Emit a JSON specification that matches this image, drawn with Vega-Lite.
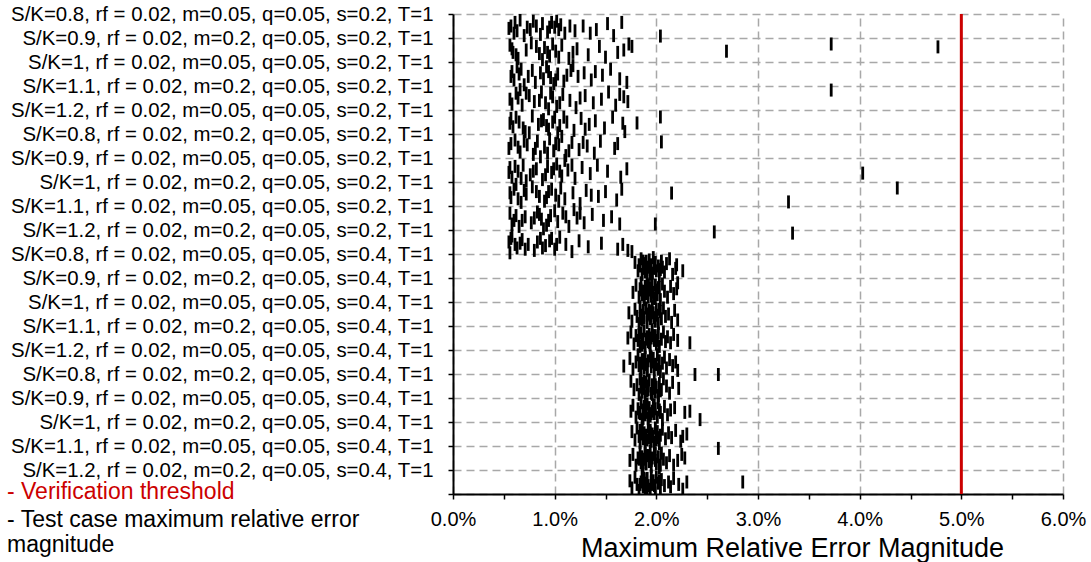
{
"$schema":"https://vega.github.io/schema/vega-lite/v6.json",
"width":610,"height":480,
"autosize":{"type":"none"},
"padding":{"left":453,"top":14,"right":28,"bottom":68},
"config":{"view":{"stroke":null},"font":"Liberation Sans","background":"white"},
"layer":[
{"data":{"values":[
{"e":0.0057,"p":1.5},{"e":0.0061,"p":1.35},{"e":0.0066,"p":1.25},{"e":0.0073,"p":1.55},{"e":0.0079,"p":1.3},{"e":0.0082,"p":1.5},{"e":0.0086,"p":1.85},{"e":0.0097,"p":1.35},{"e":0.01,"p":1.55},{"e":0.0104,"p":1.65},{"e":0.0106,"p":1.45},{"e":0.012,"p":1.7},{"e":0.0128,"p":1.5},{"e":0.0141,"p":1.65},{"e":0.0158,"p":1.9},{"e":0.0166,"p":1.35},{"e":0.0204,"p":1.92},{"e":0.006,"p":1.8},{"e":0.0093,"p":1.75},{"e":0.011,"p":1.8},{"e":0.007,"p":1.9},{"e":0.0152,"p":1.4},
{"e":0.0055,"p":1.6},{"e":0.0063,"p":1.7},{"e":0.0088,"p":1.4},{"e":0.0095,"p":1.55},{"e":0.0102,"p":1.3},{"e":0.0115,"p":1.5},{"e":0.0135,"p":1.8},{"e":0.0076,"p":1.65},
{"e":0.0056,"p":2.3},{"e":0.0059,"p":2.6},{"e":0.0064,"p":2.85},{"e":0.0072,"p":2.5},{"e":0.0077,"p":2.2},{"e":0.0085,"p":2.65},{"e":0.009,"p":2.4},{"e":0.0095,"p":2.75},{"e":0.0101,"p":2.55},{"e":0.0107,"p":2.3},{"e":0.0114,"p":2.85},{"e":0.0122,"p":2.45},{"e":0.0133,"p":2.7},{"e":0.0144,"p":2.35},{"e":0.015,"p":2.8},{"e":0.0162,"p":2.6},{"e":0.0173,"p":2.25},{"e":0.0176,"p":2.35},{"e":0.0269,"p":2.55},{"e":0.0372,"p":2.25},{"e":0.0477,"p":2.37},{"e":0.0088,"p":2.9},
{"e":0.0058,"p":2.45},{"e":0.0062,"p":2.7},{"e":0.0082,"p":2.35},{"e":0.0093,"p":2.6},{"e":0.0098,"p":2.25},{"e":0.0104,"p":2.8},{"e":0.0118,"p":2.6},{"e":0.0168,"p":2.5},
{"e":0.0058,"p":3.4},{"e":0.006,"p":3.75},{"e":0.0067,"p":3.3},{"e":0.0074,"p":3.6},{"e":0.0081,"p":3.85},{"e":0.0086,"p":3.45},{"e":0.0092,"p":3.2},{"e":0.0096,"p":3.65},{"e":0.0103,"p":3.5},{"e":0.0109,"p":3.8},{"e":0.0116,"p":3.35},{"e":0.0123,"p":3.6},{"e":0.0129,"p":3.45},{"e":0.0136,"p":3.75},{"e":0.0147,"p":3.55},{"e":0.0155,"p":3.3},{"e":0.0164,"p":3.7},{"e":0.0171,"p":3.85},{"e":0.007,"p":3.95},{"e":0.0099,"p":3.9},{"e":0.0118,"p":3.15},{"e":0.0063,"p":3.2},
{"e":0.0057,"p":3.6},{"e":0.0065,"p":3.5},{"e":0.0078,"p":3.35},{"e":0.0089,"p":3.7},{"e":0.0094,"p":3.4},{"e":0.0101,"p":3.75},{"e":0.0112,"p":3.55},{"e":0.014,"p":3.4},
{"e":0.0056,"p":4.55},{"e":0.0062,"p":4.3},{"e":0.0068,"p":4.8},{"e":0.0075,"p":4.4},{"e":0.008,"p":4.65},{"e":0.0087,"p":4.25},{"e":0.0091,"p":4.7},{"e":0.0098,"p":4.45},{"e":0.0102,"p":4.85},{"e":0.0108,"p":4.35},{"e":0.0115,"p":4.6},{"e":0.0121,"p":4.9},{"e":0.013,"p":4.4},{"e":0.0138,"p":4.7},{"e":0.0146,"p":4.55},{"e":0.0153,"p":4.25},{"e":0.016,"p":4.8},{"e":0.0168,"p":4.45},{"e":0.0172,"p":4.65},{"e":0.0372,"p":4.17},{"e":0.0094,"p":4.95},{"e":0.0066,"p":4.15},
{"e":0.0058,"p":4.75},{"e":0.0064,"p":4.5},{"e":0.0072,"p":4.3},{"e":0.0085,"p":4.6},{"e":0.0096,"p":4.3},{"e":0.0105,"p":4.7},{"e":0.0125,"p":4.5},{"e":0.0164,"p":4.35},
{"e":0.0057,"p":5.35},{"e":0.0059,"p":5.7},{"e":0.0065,"p":5.5},{"e":0.0071,"p":5.9},{"e":0.0078,"p":5.25},{"e":0.0084,"p":5.6},{"e":0.0089,"p":5.4},{"e":0.0094,"p":5.8},{"e":0.01,"p":5.3},{"e":0.0105,"p":5.65},{"e":0.0112,"p":5.5},{"e":0.0119,"p":5.85},{"e":0.0126,"p":5.35},{"e":0.0134,"p":5.6},{"e":0.014,"p":5.45},{"e":0.0149,"p":5.75},{"e":0.0157,"p":5.3},{"e":0.0167,"p":5.55},{"e":0.0181,"p":5.54},{"e":0.0204,"p":5.29},{"e":0.0075,"p":5.95},{"e":0.0103,"p":5.95},
{"e":0.0056,"p":5.55},{"e":0.0062,"p":5.3},{"e":0.0069,"p":5.75},{"e":0.0087,"p":5.45},{"e":0.0092,"p":5.65},{"e":0.0098,"p":5.5},{"e":0.0109,"p":5.3},{"e":0.013,"p":5.8},
{"e":0.0055,"p":6.6},{"e":0.0061,"p":6.25},{"e":0.0066,"p":6.75},{"e":0.0073,"p":6.45},{"e":0.0079,"p":6.85},{"e":0.0083,"p":6.3},{"e":0.009,"p":6.55},{"e":0.0095,"p":6.2},{"e":0.0099,"p":6.7},{"e":0.0104,"p":6.45},{"e":0.0111,"p":6.9},{"e":0.0117,"p":6.35},{"e":0.0124,"p":6.65},{"e":0.0132,"p":6.5},{"e":0.0139,"p":6.8},{"e":0.0145,"p":6.3},{"e":0.0159,"p":6.6},{"e":0.0162,"p":6.4},{"e":0.0169,"p":5.9},{"e":0.0205,"p":6.33},{"e":0.0086,"p":6.95},{"e":0.0107,"p":6.1},
{"e":0.0057,"p":6.4},{"e":0.0064,"p":6.55},{"e":0.007,"p":6.3},{"e":0.0081,"p":6.6},{"e":0.0093,"p":6.8},{"e":0.0101,"p":6.4},{"e":0.0114,"p":6.7},{"e":0.0128,"p":6.35},
{"e":0.0056,"p":7.4},{"e":0.0058,"p":7.8},{"e":0.0064,"p":7.55},{"e":0.0069,"p":7.3},{"e":0.0076,"p":7.7},{"e":0.0082,"p":7.45},{"e":0.0088,"p":7.9},{"e":0.0093,"p":7.35},{"e":0.0097,"p":7.6},{"e":0.0102,"p":7.25},{"e":0.0107,"p":7.75},{"e":0.0113,"p":7.5},{"e":0.012,"p":7.85},{"e":0.0127,"p":7.4},{"e":0.0135,"p":7.65},{"e":0.0142,"p":7.3},{"e":0.0152,"p":7.55},{"e":0.0165,"p":7.8},{"e":0.0171,"p":7.45},{"e":0.0403,"p":7.63},{"e":0.0072,"p":7.95},{"e":0.011,"p":7.1},
{"e":0.0055,"p":7.6},{"e":0.0061,"p":7.35},{"e":0.0067,"p":7.85},{"e":0.0079,"p":7.55},{"e":0.0091,"p":7.7},{"e":0.0099,"p":7.45},{"e":0.0105,"p":7.55},{"e":0.0117,"p":7.3},
{"e":0.0057,"p":8.65},{"e":0.006,"p":8.3},{"e":0.0067,"p":8.85},{"e":0.0072,"p":8.5},{"e":0.0078,"p":8.2},{"e":0.0085,"p":8.6},{"e":0.009,"p":8.8},{"e":0.0094,"p":8.4},{"e":0.0101,"p":8.55},{"e":0.0106,"p":8.25},{"e":0.011,"p":8.7},{"e":0.0118,"p":8.45},{"e":0.0125,"p":8.9},{"e":0.0131,"p":8.35},{"e":0.0143,"p":8.6},{"e":0.015,"p":8.4},{"e":0.0161,"p":8.75},{"e":0.0166,"p":8.3},{"e":0.0215,"p":8.46},{"e":0.0437,"p":8.25},{"e":0.033,"p":8.83},{"e":0.0062,"p":8.1},
{"e":0.0056,"p":8.45},{"e":0.0064,"p":8.7},{"e":0.007,"p":8.35},{"e":0.0082,"p":8.4},{"e":0.0092,"p":8.65},{"e":0.0097,"p":8.3},{"e":0.0104,"p":8.8},{"e":0.0136,"p":8.55},
{"e":0.0056,"p":9.3},{"e":0.006,"p":9.6},{"e":0.0065,"p":9.85},{"e":0.0071,"p":9.45},{"e":0.0077,"p":9.7},{"e":0.0083,"p":9.25},{"e":0.0087,"p":9.55},{"e":0.0092,"p":9.8},{"e":0.0096,"p":9.4},{"e":0.0103,"p":9.65},{"e":0.0108,"p":9.3},{"e":0.0114,"p":9.85},{"e":0.0122,"p":9.5},{"e":0.0129,"p":9.7},{"e":0.0137,"p":9.35},{"e":0.0148,"p":9.6},{"e":0.0156,"p":9.45},{"e":0.0164,"p":9.75},{"e":0.0199,"p":9.75},{"e":0.0089,"p":9.95},{"e":0.0119,"p":9.15},{"e":0.01,"p":9.2},
{"e":0.0058,"p":9.75},{"e":0.0062,"p":9.4},{"e":0.0068,"p":9.6},{"e":0.008,"p":9.5},{"e":0.0085,"p":9.35},{"e":0.0094,"p":9.6},{"e":0.0111,"p":9.45},{"e":0.0125,"p":9.3},
{"e":0.0055,"p":10.5},{"e":0.0058,"p":10.25},{"e":0.0063,"p":10.75},{"e":0.0068,"p":10.4},{"e":0.0074,"p":10.6},{"e":0.008,"p":10.85},{"e":0.0086,"p":10.35},{"e":0.0091,"p":10.65},{"e":0.0095,"p":10.45},{"e":0.01,"p":10.8},{"e":0.0105,"p":10.3},{"e":0.0111,"p":10.6},{"e":0.0117,"p":10.9},{"e":0.0124,"p":10.45},{"e":0.0133,"p":10.7},{"e":0.0146,"p":10.55},{"e":0.0162,"p":10.8},{"e":0.0167,"p":10.6},{"e":0.0172,"p":10.85},{"e":0.0257,"p":10.08},{"e":0.0334,"p":10.13},{"e":0.0056,"p":10.95},{"e":0.0176,"p":10.9},
{"e":0.0057,"p":10.35},{"e":0.0061,"p":10.6},{"e":0.0066,"p":10.55},{"e":0.0071,"p":10.8},{"e":0.0083,"p":10.5},{"e":0.0088,"p":10.75},{"e":0.0097,"p":10.35},{"e":0.0102,"p":10.6},
{"e":0.0179,"p":11.35},{"e":0.0182,"p":11.7},{"e":0.0184,"p":11.5},{"e":0.0185,"p":11.2},{"e":0.0186,"p":11.85},{"e":0.0187,"p":11.6},{"e":0.0188,"p":11.4},{"e":0.0189,"p":11.75},{"e":0.019,"p":11.3},{"e":0.0191,"p":11.9},{"e":0.0192,"p":11.55},{"e":0.0193,"p":11.25},{"e":0.0194,"p":11.65},{"e":0.0195,"p":11.45},{"e":0.0196,"p":11.8},{"e":0.0197,"p":11.15},{"e":0.0198,"p":11.6},{"e":0.0199,"p":11.35},{"e":0.02,"p":11.7},{"e":0.0202,"p":11.5},{"e":0.0203,"p":11.9},{"e":0.0205,"p":11.3},{"e":0.0206,"p":11.55},{"e":0.0208,"p":11.75},{"e":0.021,"p":11.4},{"e":0.0213,"p":11.2},{"e":0.0216,"p":11.85},{"e":0.0219,"p":11.6},{"e":0.022,"p":11.45},{"e":0.0226,"p":11.7},
{"e":0.0183,"p":11.45},{"e":0.0187,"p":11.3},{"e":0.019,"p":11.6},{"e":0.0194,"p":11.85},{"e":0.0198,"p":11.4},{"e":0.0204,"p":11.65},
{"e":0.0177,"p":12.6},{"e":0.018,"p":12.3},{"e":0.0183,"p":12.8},{"e":0.0184,"p":12.45},{"e":0.0185,"p":12.2},{"e":0.0186,"p":12.7},{"e":0.0187,"p":12.55},{"e":0.0188,"p":12.9},{"e":0.0189,"p":12.35},{"e":0.019,"p":12.65},{"e":0.0191,"p":12.25},{"e":0.0192,"p":12.8},{"e":0.0193,"p":12.5},{"e":0.0194,"p":12.4},{"e":0.0195,"p":12.75},{"e":0.0196,"p":12.15},{"e":0.0197,"p":12.6},{"e":0.0198,"p":12.85},{"e":0.0199,"p":12.3},{"e":0.02,"p":12.5},{"e":0.0201,"p":12.7},{"e":0.0203,"p":12.4},{"e":0.0204,"p":12.9},{"e":0.0206,"p":12.25},{"e":0.0208,"p":12.55},{"e":0.0211,"p":12.8},{"e":0.0214,"p":12.35},{"e":0.0217,"p":12.65},{"e":0.022,"p":12.45},{"e":0.0221,"p":12.2},
{"e":0.0185,"p":12.5},{"e":0.0188,"p":12.75},{"e":0.0192,"p":12.3},{"e":0.0195,"p":12.6},{"e":0.0199,"p":12.85},{"e":0.0202,"p":12.4},
{"e":0.0173,"p":13.45},{"e":0.0176,"p":13.8},{"e":0.0179,"p":13.3},{"e":0.0181,"p":13.6},{"e":0.0183,"p":13.9},{"e":0.0184,"p":13.2},{"e":0.0185,"p":13.55},{"e":0.0186,"p":13.75},{"e":0.0187,"p":13.4},{"e":0.0188,"p":13.65},{"e":0.019,"p":13.25},{"e":0.0191,"p":13.85},{"e":0.0192,"p":13.5},{"e":0.0193,"p":13.35},{"e":0.0194,"p":13.7},{"e":0.0195,"p":13.6},{"e":0.0196,"p":13.15},{"e":0.0197,"p":13.45},{"e":0.0199,"p":13.8},{"e":0.02,"p":13.3},{"e":0.0201,"p":13.55},{"e":0.0202,"p":13.9},{"e":0.0204,"p":13.4},{"e":0.0205,"p":13.7},{"e":0.0207,"p":13.25},{"e":0.0209,"p":13.6},{"e":0.0212,"p":13.5},{"e":0.0215,"p":13.85},{"e":0.0218,"p":13.35},{"e":0.0221,"p":13.75},
{"e":0.0184,"p":13.7},{"e":0.0187,"p":13.35},{"e":0.0191,"p":13.55},{"e":0.0195,"p":13.4},{"e":0.0198,"p":13.65},{"e":0.0203,"p":13.3},
{"e":0.0172,"p":14.5},{"e":0.0175,"p":14.25},{"e":0.0178,"p":14.75},{"e":0.018,"p":14.4},{"e":0.0182,"p":14.6},{"e":0.0184,"p":14.85},{"e":0.0185,"p":14.3},{"e":0.0186,"p":14.55},{"e":0.0187,"p":14.7},{"e":0.0188,"p":14.2},{"e":0.0189,"p":14.9},{"e":0.0191,"p":14.45},{"e":0.0192,"p":14.65},{"e":0.0193,"p":14.35},{"e":0.0194,"p":14.8},{"e":0.0195,"p":14.5},{"e":0.0196,"p":14.15},{"e":0.0198,"p":14.6},{"e":0.0199,"p":14.4},{"e":0.02,"p":14.75},{"e":0.0202,"p":14.3},{"e":0.0203,"p":14.85},{"e":0.0205,"p":14.55},{"e":0.0207,"p":14.25},{"e":0.0209,"p":14.65},{"e":0.0211,"p":14.45},{"e":0.0214,"p":14.7},{"e":0.0217,"p":14.35},{"e":0.0221,"p":14.6},{"e":0.0233,"p":14.7},
{"e":0.0183,"p":14.35},{"e":0.0186,"p":14.8},{"e":0.019,"p":14.55},{"e":0.0193,"p":14.7},{"e":0.0197,"p":14.4},{"e":0.0201,"p":14.6},
{"e":0.0168,"p":15.67},{"e":0.0174,"p":15.35},{"e":0.0177,"p":15.8},{"e":0.018,"p":15.5},{"e":0.0182,"p":15.2},{"e":0.0183,"p":15.65},{"e":0.0185,"p":15.9},{"e":0.0186,"p":15.4},{"e":0.0187,"p":15.55},{"e":0.0188,"p":15.75},{"e":0.0189,"p":15.3},{"e":0.019,"p":15.6},{"e":0.0191,"p":15.85},{"e":0.0192,"p":15.45},{"e":0.0194,"p":15.25},{"e":0.0195,"p":15.7},{"e":0.0196,"p":15.5},{"e":0.0197,"p":15.35},{"e":0.0198,"p":15.8},{"e":0.02,"p":15.6},{"e":0.0201,"p":15.2},{"e":0.0203,"p":15.45},{"e":0.0204,"p":15.9},{"e":0.0206,"p":15.55},{"e":0.0208,"p":15.3},{"e":0.021,"p":15.75},{"e":0.0213,"p":15.4},{"e":0.0216,"p":15.65},{"e":0.0219,"p":15.5},{"e":0.0221,"p":15.85},
{"e":0.0184,"p":15.55},{"e":0.0188,"p":15.4},{"e":0.0191,"p":15.7},{"e":0.0195,"p":15.3},{"e":0.0199,"p":15.6},{"e":0.0202,"p":15.8},
{"e":0.0175,"p":16.3},{"e":0.0178,"p":16.65},{"e":0.0181,"p":16.45},{"e":0.0183,"p":16.85},{"e":0.0184,"p":16.2},{"e":0.0185,"p":16.55},{"e":0.0186,"p":16.75},{"e":0.0187,"p":16.4},{"e":0.0188,"p":16.6},{"e":0.0189,"p":16.9},{"e":0.019,"p":16.35},{"e":0.0191,"p":16.7},{"e":0.0192,"p":16.5},{"e":0.0193,"p":16.25},{"e":0.0195,"p":16.8},{"e":0.0196,"p":16.45},{"e":0.0197,"p":16.6},{"e":0.0198,"p":16.3},{"e":0.0199,"p":16.75},{"e":0.02,"p":16.55},{"e":0.0202,"p":16.9},{"e":0.0203,"p":16.4},{"e":0.0205,"p":16.65},{"e":0.0207,"p":16.2},{"e":0.021,"p":16.5},{"e":0.0213,"p":16.8},{"e":0.0216,"p":16.35},{"e":0.0222,"p":16.6},{"e":0.0238,"p":16.02},{"e":0.0261,"p":16.02},
{"e":0.0185,"p":16.4},{"e":0.0188,"p":16.3},{"e":0.0192,"p":16.65},{"e":0.0196,"p":16.85},{"e":0.0199,"p":16.45},{"e":0.0204,"p":16.7},
{"e":0.0175,"p":17.55},{"e":0.0177,"p":17.3},{"e":0.018,"p":17.8},{"e":0.0182,"p":17.45},{"e":0.0184,"p":17.65},{"e":0.0185,"p":17.2},{"e":0.0186,"p":17.9},{"e":0.0187,"p":17.5},{"e":0.0188,"p":17.35},{"e":0.0189,"p":17.7},{"e":0.019,"p":17.6},{"e":0.0191,"p":17.25},{"e":0.0192,"p":17.85},{"e":0.0193,"p":17.4},{"e":0.0194,"p":17.75},{"e":0.0196,"p":17.55},{"e":0.0197,"p":17.3},{"e":0.0198,"p":17.65},{"e":0.0199,"p":17.45},{"e":0.0201,"p":17.8},{"e":0.0202,"p":17.2},{"e":0.0204,"p":17.6},{"e":0.0206,"p":17.9},{"e":0.0208,"p":17.35},{"e":0.0211,"p":17.7},{"e":0.0214,"p":17.5},{"e":0.0218,"p":17.4},{"e":0.0228,"p":17.6},{"e":0.0233,"p":17.55},{"e":0.0243,"p":17.9},
{"e":0.0183,"p":17.6},{"e":0.0187,"p":17.85},{"e":0.019,"p":17.4},{"e":0.0195,"p":17.65},{"e":0.0198,"p":17.3},{"e":0.0203,"p":17.5},
{"e":0.0176,"p":18.4},{"e":0.0179,"p":18.75},{"e":0.0181,"p":18.25},{"e":0.0183,"p":18.6},{"e":0.0184,"p":18.85},{"e":0.0185,"p":18.5},{"e":0.0186,"p":18.3},{"e":0.0187,"p":18.7},{"e":0.0188,"p":18.45},{"e":0.0189,"p":18.9},{"e":0.019,"p":18.55},{"e":0.0192,"p":18.2},{"e":0.0193,"p":18.65},{"e":0.0194,"p":18.35},{"e":0.0195,"p":18.8},{"e":0.0196,"p":18.5},{"e":0.0197,"p":18.6},{"e":0.0199,"p":18.25},{"e":0.02,"p":18.75},{"e":0.0201,"p":18.4},{"e":0.0203,"p":18.9},{"e":0.0204,"p":18.55},{"e":0.0206,"p":18.3},{"e":0.0209,"p":18.7},{"e":0.0212,"p":18.45},{"e":0.0215,"p":18.65},{"e":0.0219,"p":18.35},{"e":0.0224,"p":18.8},{"e":0.023,"p":18.5},{"e":0.0226,"p":18.6},
{"e":0.0184,"p":18.35},{"e":0.0188,"p":18.6},{"e":0.0191,"p":18.75},{"e":0.0194,"p":18.45},{"e":0.0198,"p":18.85},{"e":0.0202,"p":18.65},
{"e":0.0174,"p":19.6},{"e":0.0177,"p":19.35},{"e":0.018,"p":19.8},{"e":0.0182,"p":19.5},{"e":0.0184,"p":19.25},{"e":0.0185,"p":19.7},{"e":0.0186,"p":19.45},{"e":0.0187,"p":19.9},{"e":0.0188,"p":19.55},{"e":0.0189,"p":19.3},{"e":0.019,"p":19.75},{"e":0.0191,"p":19.4},{"e":0.0193,"p":19.65},{"e":0.0194,"p":19.2},{"e":0.0195,"p":19.85},{"e":0.0196,"p":19.5},{"e":0.0198,"p":19.35},{"e":0.0199,"p":19.6},{"e":0.02,"p":19.75},{"e":0.0202,"p":19.45},{"e":0.0203,"p":19.9},{"e":0.0205,"p":19.3},{"e":0.0207,"p":19.55},{"e":0.021,"p":19.7},{"e":0.0213,"p":19.4},{"e":0.0217,"p":19.8},{"e":0.0221,"p":19.6},{"e":0.0225,"p":19.35},{"e":0.0228,"p":19.5},{"e":0.0261,"p":19.1},
{"e":0.0183,"p":19.55},{"e":0.0187,"p":19.7},{"e":0.0192,"p":19.4},{"e":0.0195,"p":19.6},{"e":0.0199,"p":19.3},{"e":0.0204,"p":19.8},
{"e":0.0174,"p":20.45},{"e":0.0176,"p":20.75},{"e":0.0179,"p":20.3},{"e":0.0181,"p":20.6},{"e":0.0183,"p":20.85},{"e":0.0185,"p":20.5},{"e":0.0186,"p":20.2},{"e":0.0187,"p":20.7},{"e":0.0188,"p":20.4},{"e":0.0189,"p":20.9},{"e":0.019,"p":20.55},{"e":0.0191,"p":20.35},{"e":0.0192,"p":20.65},{"e":0.0194,"p":20.8},{"e":0.0195,"p":20.25},{"e":0.0196,"p":20.6},{"e":0.0197,"p":20.45},{"e":0.0199,"p":20.75},{"e":0.02,"p":20.3},{"e":0.0202,"p":20.55},{"e":0.0204,"p":20.85},{"e":0.0205,"p":20.4},{"e":0.0208,"p":20.65},{"e":0.0212,"p":20.5},{"e":0.0214,"p":20.7},{"e":0.0217,"p":20.35},{"e":0.0222,"p":20.6},{"e":0.0226,"p":20.8},{"e":0.023,"p":20.5},{"e":0.0285,"p":20.5},
{"e":0.0184,"p":20.6},{"e":0.0188,"p":20.35},{"e":0.0191,"p":20.75},{"e":0.0195,"p":20.5},{"e":0.0198,"p":20.65},{"e":0.0203,"p":20.45}
]},
"mark":{"type":"tick","orient":"vertical","size":13,"thickness":2.8,"opacity":1,"clip":true},
"encoding":{
"x":{"field":"e","type":"quantitative","title":"Maximum Relative Error Magnitude",
"scale":{"domain":[0,0.06],"nice":false,"zero":true},
"axis":{"values":[0,0.005,0.01,0.015,0.02,0.025,0.03,0.035,0.04,0.045,0.05,0.055,0.06],
"labelExpr":"round(datum.value*1000) % 10 == 0 ? format(datum.value, '.1%') : ''",
"labelFontSize":20,"labelColor":"black","labelPadding":10,"labelFlush":false,"labelOverlap":false,"labelBound":false,
"grid":true,"gridColor":"#A8A8A8","gridDash":[8,5],"gridWidth":1.5,
"gridOpacity":{"condition":{"test":"round(datum.value*1000) % 10 == 0","value":1},"value":0},
"domainColor":"black","domainWidth":2,"tickColor":"black","tickWidth":1.5,"tickSize":5,
"titleFontSize":27,"titleFontWeight":"normal","titleColor":"black","titleX":339,"titleY":62,"titleBaseline":"alphabetic","titleAlign":"center"}},
"y":{"field":"p","type":"quantitative","title":null,
"scale":{"domain":[1,21],"reverse":true,"nice":false,"zero":false},
"axis":{"values":[1,2,3,4,5,6,7,8,9,10,11,12,13,14,15,16,17,18,19,20,21],
"labelExpr":"['S/K=0.8, rf = 0.02, m=0.05, q=0.05, s=0.2, T=1','S/K=0.9, rf = 0.02, m=0.2, q=0.05, s=0.2, T=1','S/K=1, rf = 0.02, m=0.05, q=0.05, s=0.2, T=1','S/K=1.1, rf = 0.02, m=0.2, q=0.05, s=0.2, T=1','S/K=1.2, rf = 0.02, m=0.05, q=0.05, s=0.2, T=1','S/K=0.8, rf = 0.02, m=0.2, q=0.05, s=0.2, T=1','S/K=0.9, rf = 0.02, m=0.05, q=0.05, s=0.2, T=1','S/K=1, rf = 0.02, m=0.2, q=0.05, s=0.2, T=1','S/K=1.1, rf = 0.02, m=0.05, q=0.05, s=0.2, T=1','S/K=1.2, rf = 0.02, m=0.2, q=0.05, s=0.2, T=1','S/K=0.8, rf = 0.02, m=0.05, q=0.05, s=0.4, T=1','S/K=0.9, rf = 0.02, m=0.2, q=0.05, s=0.4, T=1','S/K=1, rf = 0.02, m=0.05, q=0.05, s=0.4, T=1','S/K=1.1, rf = 0.02, m=0.2, q=0.05, s=0.4, T=1','S/K=1.2, rf = 0.02, m=0.05, q=0.05, s=0.4, T=1','S/K=0.8, rf = 0.02, m=0.2, q=0.05, s=0.4, T=1','S/K=0.9, rf = 0.02, m=0.05, q=0.05, s=0.4, T=1','S/K=1, rf = 0.02, m=0.2, q=0.05, s=0.4, T=1','S/K=1.1, rf = 0.02, m=0.05, q=0.05, s=0.4, T=1','S/K=1.2, rf = 0.02, m=0.2, q=0.05, s=0.4, T=1',''][datum.value - 1]",
"labelFontSize":20.4,"labelColor":"black","labelPadding":15,"labelLimit":0,"labelFlush":false,"labelOverlap":false,"labelBound":false,
"grid":true,"gridColor":"#A8A8A8","gridDash":[8,5],"gridWidth":1.5,
"domainColor":"black","domainWidth":2,"tickColor":"black","tickWidth":1.5,"tickSize":5}},
"color":{"datum":"test","type":"nominal","scale":{"domain":["test"],"range":["#000000"]},
"legend":{"orient":"none","legendX":-469,"legendY":483,"title":null,"symbolSize":0,"symbolOpacity":0,"symbolStrokeWidth":0,"labelOffset":0,
"labelFontSize":23,"labelColor":"black","labelLimit":0,"labelBaseline":"top",
"labelExpr":"['- Test case maximum relative error','magnitude']"}}
}},
{"data":{"values":[{"t":0.05,"name":"threshold"}]},
"mark":{"type":"rule","strokeWidth":3},
"encoding":{
"x":{"field":"t","type":"quantitative","title":"Maximum Relative Error Magnitude"},
"stroke":{"field":"name","type":"nominal","scale":{"domain":["threshold"],"range":["#CC0000"]},
"legend":{"orient":"none","legendX":-469,"legendY":466,"title":null,"symbolSize":0,"symbolOpacity":0,"symbolStrokeWidth":0,"labelOffset":0,"fillColor":"white",
"labelFontSize":23,"labelColor":"#CC0000","labelLimit":0,"labelExpr":"'- Verification threshold'"}}
}}
]
}
